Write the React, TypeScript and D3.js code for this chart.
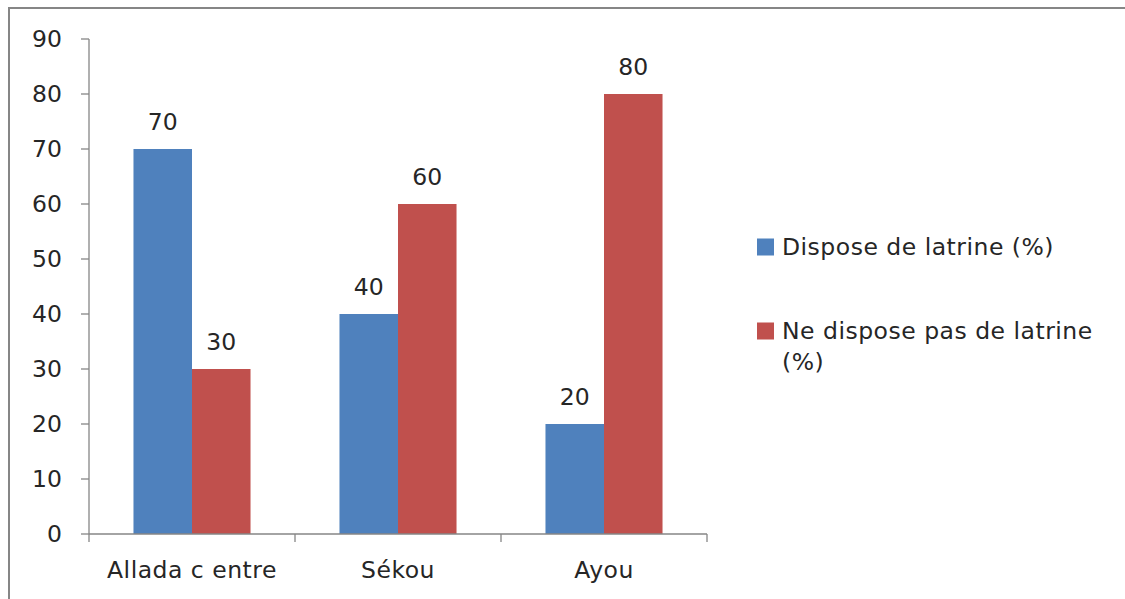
import React, { useEffect, useRef } from 'react';
import * as d3 from 'd3';

const categories = ['Allada c entre', 'Sékou', 'Ayou'];
const seriesNames = ['Dispose de latrine (%)', 'Ne dispose pas de latrine (%)'];
const disposeValues = [70, 40, 20];
const neDisposeValues = [30, 60, 80];
const yTicks = [0, 10, 20, 30, 40, 50, 60, 70, 80, 90];
const colors = ['#4F81BD', '#C0504D'];

const FONT = '"DejaVu Sans", Verdana, sans-serif';
const FS = 23.5;
const LS = 0.5;

const App: React.FC = () => {
    const ref = useRef<SVGSVGElement>(null);

    useEffect(() => {
        const svg = d3.select(ref.current);
        svg.selectAll('*').remove();

        // outer frame
        svg.append('rect')
            .attr('x', 9).attr('y', 8)
            .attr('width', 1200).attr('height', 700)
            .attr('fill', 'white')
            .attr('stroke', '#868686').attr('stroke-width', 2);

        const left = 89, right = 707, top = 39, bottom = 534;

        const x = d3.scaleBand<string>().domain(categories).range([left, right]);
        const x1 = d3.scaleBand<number>().domain([0, 1]).range([0, x.bandwidth()]).paddingOuter(0.76).paddingInner(0);
        const y = d3.scaleLinear().domain([0, 90]).range([bottom, top]);

        const axisColor = '#868686';
        const textColor = '#262626';

        // y axis
        svg.append('line').attr('x1', left).attr('x2', left).attr('y1', top).attr('y2', bottom)
            .attr('stroke', axisColor).attr('stroke-width', 1.3);
        yTicks.forEach(t => {
            svg.append('line').attr('x1', left - 8).attr('x2', left).attr('y1', y(t)).attr('y2', y(t))
                .attr('stroke', axisColor).attr('stroke-width', 1.3);
            svg.append('text').attr('x', 62).attr('y', y(t)).attr('dy', '0.35em')
                .attr('text-anchor', 'end').attr('font-family', FONT).attr('font-size', FS)
                .attr('fill', textColor).text(t);
        });

        // bars
        const data = [disposeValues, neDisposeValues];
        categories.forEach((c, i) => {
            data.forEach((vals, s) => {
                const bx = (x(c) ?? 0) + (x1(s) ?? 0);
                svg.append('rect')
                    .attr('x', bx).attr('y', y(vals[i]))
                    .attr('width', x1.bandwidth()).attr('height', bottom - y(vals[i]))
                    .attr('fill', colors[s]);
                svg.append('text')
                    .attr('x', bx + x1.bandwidth() / 2).attr('y', y(vals[i]) - 27)
                    .attr('dy', '0.35em').attr('text-anchor', 'middle')
                    .attr('font-family', FONT).attr('font-size', FS).attr('fill', textColor)
                    .text(vals[i]);
            });
            svg.append('text')
                .attr('x', (x(c) ?? 0) + x.bandwidth() / 2).attr('y', 570)
                .attr('dy', '0.35em').attr('text-anchor', 'middle')
                .attr('font-family', FONT).attr('font-size', FS).attr('letter-spacing', LS)
                .attr('fill', textColor)
                .text(c);
        });

        // x axis
        svg.append('line').attr('x1', left).attr('x2', right).attr('y1', bottom).attr('y2', bottom)
            .attr('stroke', axisColor).attr('stroke-width', 1.3);
        [...categories.map(c => x(c) ?? 0), right].forEach(tx => {
            svg.append('line').attr('x1', tx).attr('x2', tx).attr('y1', bottom).attr('y2', bottom + 8)
                .attr('stroke', axisColor).attr('stroke-width', 1.3);
        });

        // legend
        const legendLines = [['Dispose de latrine (%)'], ['Ne dispose pas de latrine', '(%)']];
        const legendY = [247, 331];
        seriesNames.forEach((_, s) => {
            svg.append('rect').attr('x', 757).attr('y', legendY[s] - 8.5).attr('width', 17).attr('height', 17)
                .attr('fill', colors[s]);
            legendLines[s].forEach((line, k) => {
                svg.append('text').attr('x', 782).attr('y', legendY[s] + k * 31).attr('dy', '0.35em')
                    .attr('font-family', FONT).attr('font-size', FS).attr('letter-spacing', LS)
                    .attr('fill', textColor)
                    .text(line);
            });
        });
    }, []);

    return <svg ref={ref} width={1125} height={599} style={{ display: 'block', position: 'absolute', left: 0, top: 0 }}></svg>;
};

export default App;
